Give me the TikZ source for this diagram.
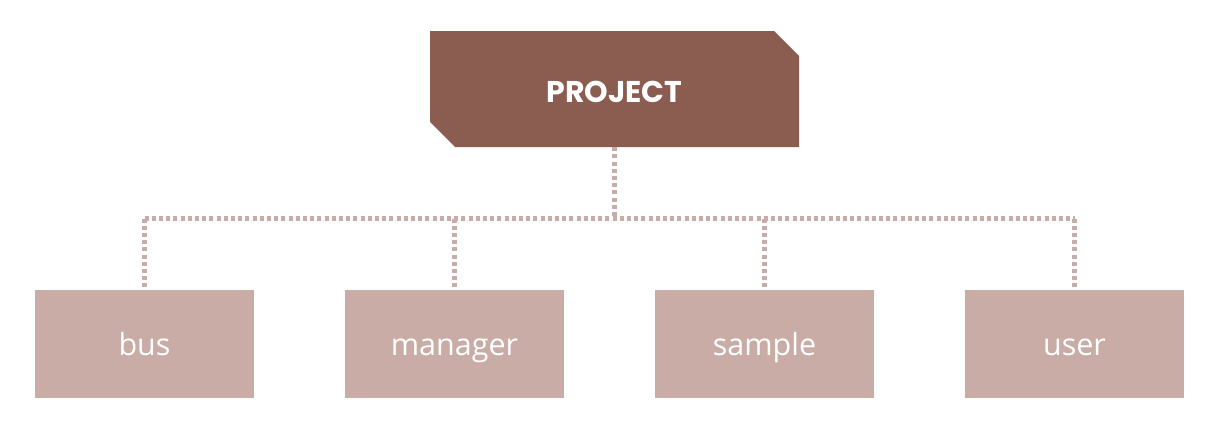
\documentclass[tikz,border=0pt]{standalone}
\usepackage{fontspec}
\setmainfont{Open Sans}
\newfontfamily\projfont{Poppins}
\usetikzlibrary{shapes.misc}
\definecolor{projcol}{HTML}{8B5C50}
\definecolor{childcol}{HTML}{C9ACA5}
\definecolor{dotcol}{HTML}{C6ADA9}
\begin{document}
\begin{tikzpicture}[x=1pt,y=-1pt,
  projbox/.style={chamfered rectangle, chamfered rectangle corners={north east,south west},
    chamfered rectangle xsep=12.5pt, chamfered rectangle ysep=12.5pt,
    fill=projcol, draw=none, minimum width=369pt, minimum height=116pt, inner sep=0pt,
    text height=27.8pt, text depth=0pt,
    text=white, font=\projfont\bfseries\fontsize{30}{36}\selectfont},
  childbox/.style={rectangle, fill=childcol, draw=none, minimum width=219pt, minimum height=108pt,
    inner sep=0pt, text height=22pt, text depth=0pt, text=white, font=\fontsize{30.5}{34}\selectfont},
  conn/.style={draw=dotcol, line width=4.4pt, dash pattern=on 4pt off 3.2pt}
]
\useasboundingbox (0,0) rectangle (1223,432);
\node[projbox] (proj) at (614.5,89) {PROJECT};
\node[childbox] (bus) at (144.5,344) {bus};
\node[childbox] (manager) at (454.5,344) {manager};
\node[childbox] (sample) at (764.5,344) {sample};
\node[childbox] (user) at (1074.5,344) {user};
\coordinate (bar) at (614.5,218.5);
\draw[conn] (proj.south) -- (bar);
\draw[conn] (bus.north |- bar) -- (user.north |- bar);
\foreach \c in {bus,manager,sample,user}{
  \draw[conn] (\c.north |- bar) -- (\c.north);
}
\end{tikzpicture}
\end{document}
